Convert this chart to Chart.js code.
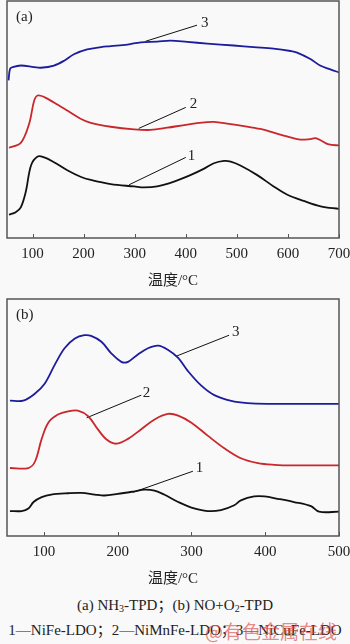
<!DOCTYPE html>
<html>
<head>
<meta charset="utf-8">
<script src="https://cdn.jsdelivr.net/npm/chart.js@4"></script>
<style>
  body { margin:0; background:#f9f9f9; }
  #wrap { position:relative; width:350px; height:644px; overflow:hidden; }
  .pane { position:absolute; left:0; width:350px; height:292px; }
  .cap { position:absolute; left:0; width:350px; text-align:center; white-space:nowrap; line-height:18px;
         font-family:'Liberation Serif','Noto Sans CJK SC',serif; font-size:15px; color:#222; }
  .cap sub { font-size:10px; vertical-align:-2px; line-height:0; }
  #wm { position:absolute; left:205px; top:619px; line-height:24px; font-family:'Noto Sans CJK SC',sans-serif;
        font-size:19px; color:rgba(222,70,70,0.65); }
</style>
</head>
<body>
<div id="wrap">
  <div class="pane" style="top:0"><canvas id="chA"></canvas></div>
  <div class="pane" style="top:298px"><canvas id="chB"></canvas></div>
  <div class="cap" style="top:596px">(a) NH<sub>3</sub>-TPD；(b) NO+O<sub>2</sub>-TPD</div>
  <div class="cap" style="top:621px">1—NiFe-LDO；2—NiMnFe-LDO；3—NiCuFe-LDO</div>
  <div id="wm">@有色金属在线</div>
</div>
<script>
// (a) NH3-TPD, x = 温度 (°C), y = signal (arb. units)
const ticksA = [100, 200, 300, 400, 500, 600, 700];
const a3T = [53, 56, 61, 77, 103, 116, 142, 162, 181, 207, 234, 253, 286, 312, 344, 370, 403, 442, 494, 533, 572, 605, 618, 644, 663, 683, 701];
const a3Y = [163, 175, 176.7, 178.3, 176.7, 176, 178.3, 183.3, 190, 195, 197.3, 198.3, 200, 202.3, 203, 204, 202.7, 201, 199, 197.3, 195.7, 193.3, 191.7, 185, 178.3, 174.3, 171];
const a2T = [54, 77, 93.5, 103, 110, 123, 142, 168, 194, 214, 253, 299, 331, 364, 403, 442, 455, 481, 514, 546, 572, 598, 624, 644, 654, 664, 680, 701];
const a2Y = [93.3, 98.3, 118.3, 141.7, 147.3, 145.7, 140, 131.7, 123.3, 119, 115, 112.3, 111.7, 114, 117.3, 119.7, 120, 118.3, 115.7, 112.7, 109, 105, 101.7, 102.3, 103.3, 101, 96.7, 95.7];
const a1T = [54, 67, 77, 87, 97, 110, 123, 142, 168, 194, 214, 253, 299, 318, 344, 377, 409, 436, 455, 475, 488, 507, 540, 572, 598, 631, 664, 701];
const a1Y = [24, 26.7, 31.7, 48.3, 75, 84.3, 83.3, 78.3, 70, 63.3, 60, 55.7, 53.3, 52.3, 53.3, 58.3, 65, 71.7, 77.3, 79.7, 79, 75, 65, 53.3, 45, 38.3, 32.7, 30];
// leader lines: [x1, y1, x2, y2] and label points
const leadA = [[400, 83.3, 289, 55], [400, 135, 308, 113.3], [422, 220, 321, 203.3]];
const labA = [[411, 85, "1"], [415, 138.3, "2"], [437, 221.7, "3"]];

// (b) NO+O2-TPD
const ticksB = [100, 200, 300, 400, 500];
const b3T = [54, 72, 88, 101, 115, 128, 142, 155, 164, 178, 191, 205, 214, 227, 241, 255, 268, 282, 295, 313, 331, 354, 376, 403, 500];
const b3Y = [139.3, 139.3, 146.7, 156.7, 176.7, 193.3, 203.3, 206.7, 206, 200, 188.3, 179.3, 179.3, 186.7, 193.3, 196, 191.7, 183.3, 170, 155, 145, 139, 136.7, 136, 136];
const b2T = [54, 79, 88, 97, 106, 119, 133, 146, 160, 173, 185, 198, 214, 232, 250, 268, 282, 300, 322, 345, 367, 390, 412, 439, 500];
const b2Y = [70, 70, 76.7, 100, 116.7, 125, 128.3, 129, 123.3, 110, 99.3, 95, 100, 110, 120, 125.7, 124, 116.7, 103.3, 90, 80, 75, 73.3, 72.7, 72.7];
const b1T = [54, 70, 79, 86, 97, 110, 133, 151, 169, 182, 200, 223, 236, 250, 263, 282, 300, 322, 340, 358, 367, 385, 399, 417, 439, 462, 473, 500];
const b1Y = [25.7, 25.7, 28.3, 35, 40, 42.7, 44, 44.3, 42.7, 41.7, 43.3, 46, 47.7, 46.7, 42.7, 35, 29.3, 25.7, 26.7, 31.7, 36.7, 40.7, 40.7, 38.3, 35, 30.7, 25, 25];
const leadB = [[302, 66.7, 221, 45], [232, 145, 158, 121.7], [351, 206.7, 279, 185]];
const labB = [[311, 70, "1"], [239, 146.7, "2"], [360, 210, "3"]];

const FONT = "'Liberation Serif', 'Noto Sans CJK SC', serif";
Chart.defaults.font.family = FONT;
Chart.defaults.font.size = 15;
Chart.defaults.color = "#222";

const zip = (xs, ys) => xs.map((x, i) => ({ x: x, y: ys[i] }));

const frame = {
  id: "frame",
  afterDatasetsDraw(chart, args, opts) {
    const { ctx, chartArea: a, scales } = chart;
    ctx.save();
    ctx.strokeStyle = "#555";
    ctx.lineWidth = 1.5;
    ctx.strokeRect(a.left, a.top, a.right - a.left, a.bottom - a.top);
    ctx.lineWidth = 1;
    scales.x.ticks.forEach((t) => {
      const px = Math.round(scales.x.getPixelForValue(t.value)) + 0.5;
      ctx.beginPath();
      ctx.moveTo(px, a.bottom);
      ctx.lineTo(px, a.bottom - 4);
      ctx.stroke();
    });
    ctx.fillStyle = "#222";
    ctx.font = "15px " + FONT;
    ctx.textAlign = "center";
    ctx.textBaseline = "middle";
    opts.labels.forEach((l) => {
      ctx.fillText(l[2], scales.x.getPixelForValue(l[0]), scales.y.getPixelForValue(l[1]));
    });
    ctx.textAlign = "left";
    ctx.fillText(opts.tag, a.left + 9, a.top + 16);
    ctx.restore();
  },
};

function makeChart(id, series, leads, labels, ticks, xmax, ymax, tag) {
  const colors = ["#111111", "#c9272c", "#1c1c9c"];
  const datasets = series.map((s, i) => ({
    data: zip(s[0], s[1]),
    borderColor: colors[i],
    borderWidth: 1.8,
    pointRadius: 0,
    tension: 0.35,
  }));
  leads.forEach((l) => {
    datasets.push({
      data: [{ x: l[0], y: l[1] }, { x: l[2], y: l[3] }],
      borderColor: "#111",
      borderWidth: 1,
      pointRadius: 0,
    });
  });
  new Chart(document.getElementById(id), {
    type: "line",
    data: { datasets: datasets },
    options: {
      responsive: false,
      animation: false,
      events: [],
      layout: { padding: { left: 7, right: 11, top: 1, bottom: 0 } },
      plugins: {
        legend: { display: false },
        tooltip: { enabled: false },
        frame: { labels: labels, tag: tag },
      },
      scales: {
        x: {
          type: "linear",
          min: 50,
          max: xmax,
          afterBuildTicks: (s) => { s.ticks = ticks.map((v) => ({ value: v })); },
          afterFit: (s) => { s.paddingLeft = 0; s.paddingRight = 0; },
          grid: { display: false, drawTicks: false },
          border: { display: false },
          ticks: { padding: 7, maxRotation: 0, color: "#222" },
          title: { display: true, text: "温度/°C", padding: { top: 2, bottom: 2 }, color: "#222" },
        },
        y: { display: false, min: 0, max: ymax },
      },
    },
    plugins: [frame],
  });
}

const cA = document.getElementById("chA"); cA.width = 350; cA.height = 292;
const cB = document.getElementById("chB"); cB.width = 350; cB.height = 292;

makeChart("chA", [[a1T, a1Y], [a2T, a2Y], [a3T, a3Y]], leadA, labA, ticksA, 700, 245, "(a)");
makeChart("chB", [[b1T, b1Y], [b2T, b2Y], [b3T, b3Y]], leadB, labB, ticksB, 500, 244, "(b)");
</script>
</body>
</html>
